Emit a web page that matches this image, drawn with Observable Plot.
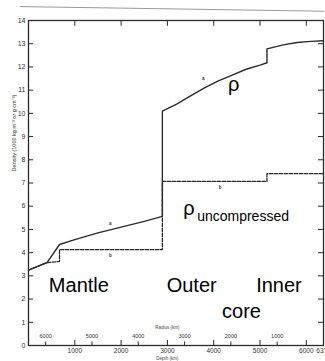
<!DOCTYPE html>
<html><head><meta charset="utf-8">
<script src="https://cdn.jsdelivr.net/npm/d3@7"></script>
<script src="https://cdn.jsdelivr.net/npm/@observablehq/plot@0.6"></script>
<style>body{margin:0;background:#fff}#chart{width:325px;height:361px;overflow:hidden}</style>
</head><body><div id="chart"></div>
<script>
// Density (rho) vs depth, solid curve
const rhoDepth = [0, 400, 670, 1000, 1500, 2000, 2500, 2891, 2891, 3200, 3500, 3800, 4100, 4400, 4700, 5000, 5150, 5150, 5500, 5800, 6100, 6371];
const rhoValue = [3.25, 3.57, 4.35, 4.56, 4.85, 5.1, 5.35, 5.56, 10.1, 10.4, 10.75, 11.1, 11.4, 11.65, 11.9, 12.08, 12.18, 12.78, 12.95, 13.05, 13.1, 13.13];
// Uncompressed density, dashed curve
const uncDepth = [0, 400, 670, 670, 2891, 2891, 5150, 5150, 6371];
const uncValue = [3.25, 3.57, 3.62, 4.13, 4.13, 7.07, 7.07, 7.4, 7.4];
// Axes
const yTicks = [0,1,2,3,4,5,6,7,8,9,10,11,12,13,14];
const depthTicks = [1000, 2000, 3000, 4000, 5000, 6000];
const depthLabelPos = [1000, 2000, 3000, 4000, 5000, 6000, 6371];
const depthLabels = ["1000", "2000", "3000", "4000", "5000", "6000", "6371"];
const radiusTicks = [6000, 5000, 4000, 3000, 2000, 1000];
const earthRadius = 6371;
// Region labels
const regionNames = ["Mantle", "Outer", "Inner", "core"];
const regionDepth = [1088, 3524, 5409, 4601];
const regionValue = [2.56, 2.56, 2.56, 1.48];
// Curve labels
const curveSymbol = ["ρ", "ρ"];
const curveSymbolDepth = [4310, 3341];
const curveSymbolValue = [11.22, 5.88];
const subLabel = ["uncompressed"];
const subDepth = [3642];
const subValue = [5.54];
const smallTags = ["a", "a", "b", "b"];
const smallTagDepth = [1767, 3772, 1767, 4138];
const smallTagValue = [5.25, 11.5, 3.88, 6.8];
// page edge line of the scan
const edgeDepth = [-180, 6371];
const edgeValue = [14.6, 14.4];

const rho = rhoDepth.map((d, i) => ({d, v: rhoValue[i]}));
const unc = uncDepth.map((d, i) => ({d, v: uncValue[i]}));
const edge = edgeDepth.map((d, i) => ({d, v: edgeValue[i]}));
const ink = "#2b2b2b";

const plot = Plot.plot({
  width: 325, height: 361,
  marginLeft: 28, marginRight: 2, marginTop: 20, marginBottom: 16,
  x: {domain: [0, 6371], axis: null},
  y: {domain: [0, 14], axis: null},
  style: {fontFamily: "Liberation Sans, Arial, sans-serif", background: "#fff", overflow: "visible"},
  marks: [
    Plot.line(edge, {x: "d", y: "v", stroke: "#999", strokeWidth: 1, clip: false}),
    Plot.frame({stroke: ink, strokeWidth: 1.3}),
    // inward ticks
    Plot.ruleY(yTicks, {y: d => d, x1: 0, x2: 110, stroke: ink, strokeWidth: 1}),
    Plot.ruleY(yTicks, {y: d => d, x1: 6261, x2: 6371, stroke: ink, strokeWidth: 1}),
    Plot.ruleX(depthTicks, {x: d => d, y1: 14, y2: 13.75, stroke: ink, strokeWidth: 1}),
    Plot.ruleX(depthTicks, {x: d => d, y1: 0, y2: 0.22, stroke: ink, strokeWidth: 1}),
    Plot.ruleX(radiusTicks, {x: r => earthRadius - r, y1: 0, y2: 0.15, stroke: ink, strokeWidth: 1}),
    Plot.axisY({ticks: yTicks, tickSize: 0, tickPadding: 3, fontSize: 7, fill: "#333", label: null}),
    Plot.text(depthLabels, {x: (d, i) => depthLabelPos[i], text: d => d, frameAnchor: "bottom", dy: 7, fontSize: 6.5, fill: "#333"}),
    Plot.text(radiusTicks, {x: r => earthRadius - r, text: r => String(r), frameAnchor: "bottom", dy: -8, fontSize: 5.5, fill: "#333"}),
    Plot.text(["Radius (km)"], {x: 3000, frameAnchor: "bottom", dy: -17, fontSize: 4.5, fill: "#444"}),
    Plot.text(["Depth (km)"], {x: 3000, frameAnchor: "bottom", dy: 14, fontSize: 4.5, fill: "#444"}),
    Plot.text(["Density (1000 kg m⁻³ or g cm⁻³)"], {frameAnchor: "left", y: 7.5, dx: -14, rotate: -90, fontSize: 5.5, fill: "#333"}),
    // curves
    Plot.line(unc, {x: "d", y: "v", stroke: ink, strokeWidth: 1.3, strokeDasharray: "3.5,1.5"}),
    Plot.line(rho, {x: "d", y: "v", stroke: ink, strokeWidth: 1.4}),
    Plot.text(smallTags, {x: (d, i) => smallTagDepth[i], y: (d, i) => smallTagValue[i], text: d => d, fontSize: 4.5, fontWeight: "bold", fill: "#333"}),
    // overlaid labels
    Plot.text(regionNames, {x: (d, i) => regionDepth[i], y: (d, i) => regionValue[i], text: d => d, fontSize: 20, fill: "#000"}),
    Plot.text(curveSymbol, {x: (d, i) => curveSymbolDepth[i], y: (d, i) => curveSymbolValue[i], text: d => d, fontSize: 20, fill: "#000", textAnchor: "start"}),
    Plot.text(subLabel, {x: (d, i) => subDepth[i], y: (d, i) => subValue[i], text: d => d, fontSize: 14, fill: "#000", textAnchor: "start"})
  ]
});
document.getElementById("chart").appendChild(plot);
</script>
</body></html>
